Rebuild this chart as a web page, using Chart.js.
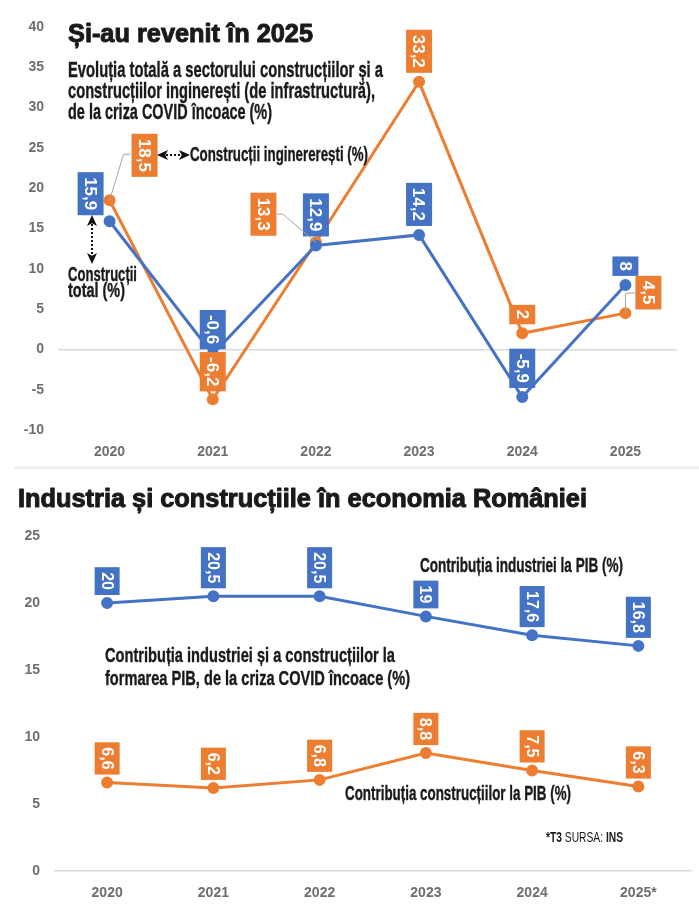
<!DOCTYPE html>
<html><head><meta charset="utf-8">
<script src="https://cdn.jsdelivr.net/npm/chart.js@4"></script>
<style>
html,body{margin:0;padding:0;background:#fff;}
#wrap{position:relative;width:699px;height:912px;overflow:hidden;background:#fff;}
#c1wrap{position:absolute;left:0;top:0;width:699px;height:465px;}
#c2wrap{position:absolute;left:0;top:470px;width:699px;height:442px;}
#sep{position:absolute;left:14px;top:466px;width:685px;height:3px;background:#efefef;}
</style></head><body>
<div id="wrap">
<div id="c1wrap"><canvas id="c1"></canvas></div>
<div id="sep"></div>
<div id="c2wrap"><canvas id="c2"></canvas></div>
</div>
<script>
// ---------- DATA ----------
const years = ['2020', '2021', '2022', '2023', '2024', '2025'];
const constructiiTotal = [15.9, -0.6, 12.9, 14.2, -5.9, 8];
const constructiiIngineresti = [18.5, -6.2, 13.3, 33.2, 2, 4.5];
const topYTicks = [-10, -5, 0, 5, 10, 15, 20, 25, 30, 35, 40];

const yearsPib = ['2020', '2021', '2022', '2023', '2024', '2025*'];
const industriePib = [20, 20.5, 20.5, 19, 17.6, 16.8];
const constructiiPib = [6.6, 6.2, 6.8, 8.8, 7.5, 6.3];
const bottomYTicks = [0, 5, 10, 15, 20, 25];

// ---------- STYLE ----------
const BLUE = '#4472C4';
const ORANGE = '#ED7D31';
const TEXT = '#1a1a1a';
const TICK = '#6e6e6e';
const FAM = '"Liberation Sans", Arial, sans-serif';
Chart.defaults.font.family = FAM;

function fmt(v) { return String(v).replace('.', ','); }

function fitText(ctx, t) {
  ctx.save();
  const segs = t.segs || [{ text: t.text, font: t.font }];
  let total = 0;
  segs.forEach(s => { ctx.font = s.font; s.w = ctx.measureText(s.text).width; total += s.w; });
  const sc = t.width ? t.width / total : 1;
  ctx.translate(t.x, t.y);
  ctx.scale(sc, 1);
  ctx.fillStyle = t.color || TEXT;
  ctx.strokeStyle = t.color || TEXT;
  ctx.lineJoin = 'round';
  ctx.textBaseline = 'alphabetic';
  ctx.textAlign = 'left';
  let x = 0;
  segs.forEach(s => {
    ctx.font = s.font;
    ctx.fillText(s.text, x, 0);
    if (t.heavy) { ctx.lineWidth = t.heavy; ctx.strokeText(s.text, x, 0); }
    x += s.w;
  });
  ctx.restore();
}

function arrowHead(ctx, x, y, ang, len, half) {
  ctx.save();
  ctx.translate(x, y);
  ctx.rotate(ang);
  ctx.beginPath();
  ctx.moveTo(0, 0);
  ctx.lineTo(-len, -half);
  ctx.lineTo(-len * 0.75, 0);
  ctx.lineTo(-len, half);
  ctx.closePath();
  ctx.fill();
  ctx.restore();
}

function doubleArrow(ctx, a) {
  ctx.save();
  ctx.fillStyle = '#111';
  ctx.strokeStyle = '#111';
  const ang = Math.atan2(a.y2 - a.y1, a.x2 - a.x1);
  arrowHead(ctx, a.x2, a.y2, ang, 11, 5);
  arrowHead(ctx, a.x1, a.y1, ang + Math.PI, 11, 5);
  ctx.lineWidth = 2;
  ctx.setLineDash([2, 2]);
  const ux = Math.cos(ang), uy = Math.sin(ang);
  ctx.beginPath();
  ctx.moveTo(a.x1 + ux * 9, a.y1 + uy * 9);
  ctx.lineTo(a.x2 - ux * 9, a.y2 - uy * 9);
  ctx.stroke();
  ctx.restore();
}

const decorPlugin = {
  id: 'decor',
  afterDatasetsDraw(chart, args, opts) {
    const ctx = chart.ctx;
    chart.data.datasets.forEach((ds, i) => {
      const meta = chart.getDatasetMeta(i);
      const place = (opts.place && opts.place[i]) || [];
      meta.data.forEach((el, j) => {
        const txt = fmt(ds.data[j]);
        ctx.save();
        ctx.font = opts.labelFont;
        const tw = ctx.measureText(txt).width;
        const L = tw + 2 * opts.pad;
        const T = opts.thick;
        const p = place[j] || {};
        let cx, cy;
        if (p.cx !== undefined) { cx = el.x + p.cx; cy = el.y + p.cy; }
        else { cx = el.x + (p.dx || 0); cy = el.y - (p.gap !== undefined ? p.gap : opts.gap) - L / 2; }
        if (p.leader) {
          ctx.strokeStyle = '#a6a6a6';
          ctx.lineWidth = 1;
          ctx.beginPath();
          p.leader.forEach((q, k) => { const X = el.x + q[0], Y = el.y + q[1]; k ? ctx.lineTo(X, Y) : ctx.moveTo(X, Y); });
          ctx.stroke();
        }
        ctx.fillStyle = ds.borderColor;
        ctx.fillRect(cx - T / 2, cy - L / 2, T, L);
        ctx.translate(cx, cy);
        ctx.rotate(Math.PI / 2);
        ctx.fillStyle = '#fff';
        ctx.textAlign = 'center';
        ctx.textBaseline = 'middle';
        ctx.fillText(txt, 0, 1);
        ctx.restore();
      });
    });
    (opts.texts || []).forEach(t => fitText(ctx, t));
    (opts.arrows || []).forEach(a => doubleArrow(ctx, a));
  }
};

function gridZero(c) { return c.tick && c.tick.value === 0 ? '#d9d9d9' : 'rgba(0,0,0,0)'; }

function baseScales(ticksArr, yWidth, xHeight, tickPadY) {
  return {
    x: {
      type: 'category', offset: true,
      grid: { display: false, drawTicks: false },
      border: { display: false },
      ticks: { color: TICK, font: { size: 14, weight: 'bold' }, padding: 14, maxRotation: 0 },
      afterFit: a => { a.height = xHeight; }
    },
    y: {
      min: ticksArr[0], max: ticksArr[ticksArr.length - 1],
      afterBuildTicks: a => { a.ticks = ticksArr.map(v => ({ value: v })); },
      grid: { color: gridZero, lineWidth: 1.5, drawTicks: false },
      border: { display: false },
      ticks: { color: TICK, font: { size: 14, weight: 'bold' }, padding: tickPadY },
      afterFit: a => { a.width = yWidth; }
    }
  };
}

function lineDs(label, data, color) {
  return {
    label, data, borderColor: color, backgroundColor: color,
    borderWidth: 3, pointRadius: 4.5, pointBackgroundColor: color,
    pointBorderColor: color, pointHoverRadius: 4.5, tension: 0, clip: false
  };
}

const B = 'bold ';
// ---------- TOP CHART ----------
new Chart(document.getElementById('c1'), {
  type: 'line',
  data: {
    labels: years,
    datasets: [
      lineDs('Construcții total (%)', constructiiTotal, BLUE),
      lineDs('Construcții inginererești (%)', constructiiIngineresti, ORANGE)
    ]
  },
  options: {
    responsive: true, maintainAspectRatio: false, animation: false, devicePixelRatio: 1,
    layout: { padding: { top: 27, right: 22, bottom: 0, left: 0 } },
    scales: baseScales(topYTicks, 58, 35, 14),
    plugins: {
      legend: { display: false }, tooltip: { enabled: false },
      decor: {
        labelFont: 'bold 17px ' + FAM, pad: 5, thick: 26, gap: 9,
        place: [
          [{ dx: -19, gap: 6 }, { gap: 5 }, {}, {}, {}, {}],
          [{ cx: 35, cy: -45, leader: [[0, 0], [14, -46], [21, -46]] }, { gap: 8 },
           { cx: -52.5, cy: -28, leader: [[0, 0], [-33, -28], [-39, -28]] }, {}, {},
           { cx: 23, cy: -20.5, leader: [[0, 0], [0, -20], [10, -20]] }]
        ],
        texts: [
          { text: 'Și-au revenit în 2025', font: B + '26px ' + FAM, x: 68, y: 42, width: 245, heavy: 1 },
          { text: 'Evoluția totală a sectorului construcțiilor și a', font: B + '22px ' + FAM, x: 68, y: 77, width: 315, heavy: 0.4 },
          { text: 'construcțiilor inginerești (de infrastructură),', font: B + '22px ' + FAM, x: 68, y: 98, width: 307, heavy: 0.4 },
          { text: 'de la criza COVID încoace (%)', font: B + '22px ' + FAM, x: 68, y: 119, width: 204, heavy: 0.4 },
          { text: 'Construcții inginererești (%)', font: B + '20px ' + FAM, x: 190, y: 161, width: 178, heavy: 0.4 },
          { text: 'Construcții', font: B + '20px ' + FAM, x: 68, y: 281, width: 69, heavy: 0.4 },
          { text: 'total (%)', font: B + '20px ' + FAM, x: 68, y: 297, width: 57, heavy: 0.4 }
        ],
        arrows: [
          { x1: 157, y1: 155, x2: 190, y2: 155 },
          { x1: 92, y1: 215, x2: 92, y2: 264 }
        ]
      }
    }
  },
  plugins: [decorPlugin]
});

// ---------- BOTTOM CHART ----------
new Chart(document.getElementById('c2'), {
  type: 'line',
  data: {
    labels: yearsPib,
    datasets: [
      lineDs('Contribuția industriei la PIB (%)', industriePib, BLUE),
      lineDs('Contribuția construcțiilor la PIB (%)', constructiiPib, ORANGE)
    ]
  },
  options: {
    responsive: true, maintainAspectRatio: false, animation: false, devicePixelRatio: 1,
    layout: { padding: { top: 66, right: 6, bottom: 0, left: 0 } },
    scales: baseScales(bottomYTicks, 54, 41, 14),
    plugins: {
      legend: { display: false }, tooltip: { enabled: false },
      decor: {
        labelFont: 'bold 16px ' + FAM, pad: 5, thick: 25, gap: 8,
        place: [[], []],
        texts: [
          { text: 'Industria și construcțiile în economia României', font: B + '25px ' + FAM, x: 18, y: 37, width: 569, heavy: 1 },
          { text: 'Contribuția industriei și a construcțiilor la', font: B + '21px ' + FAM, x: 105, y: 192, width: 290, heavy: 0.4 },
          { text: 'formarea PIB, de la criza COVID încoace (%)', font: B + '21px ' + FAM, x: 105, y: 215, width: 305, heavy: 0.4 },
          { text: 'Contribuția industriei la PIB (%)', font: B + '20px ' + FAM, x: 420, y: 102, width: 203, heavy: 0.4 },
          { text: 'Contribuția construcțiilor la PIB (%)', font: B + '20px ' + FAM, x: 345, y: 330, width: 226, heavy: 0.4 },
          { segs: [{ text: '*T3 ', font: B + '14px ' + FAM }, { text: 'SURSA: ', font: '14px ' + FAM }, { text: 'INS', font: B + '14px ' + FAM }], x: 546, y: 372, width: 77 }
        ],
        arrows: []
      }
    }
  },
  plugins: [decorPlugin]
});
</script>
</body></html>
